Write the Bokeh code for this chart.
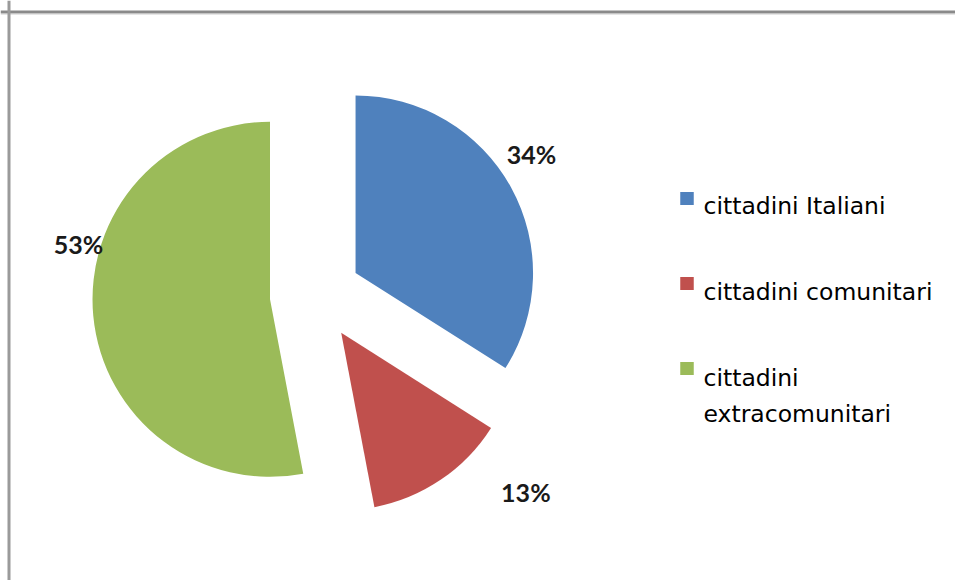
import math
from bokeh.plotting import figure
from bokeh.models import Range1d, Span
from bokeh.core.properties import value
from bokeh.embed import file_html
from bokeh.resources import INLINE

# ---- data ----
categories = ["cittadini Italiani", "cittadini comunitari", "cittadini extracomunitari"]
values = [34, 13, 53]
labels = ["34%", "13%", "53%"]
colors = ["#4F81BD", "#C0504D", "#9BBB59"]
legend_lines = [["cittadini Italiani"], ["cittadini comunitari"], ["cittadini", "extracomunitari"]]

# ---- layout ----
W, H = 955, 580
OX, OY = 0, 0                      # observed page offset
def dx(sx):  # screen px -> data x
    return sx - OX
def dy(sy):  # screen px -> data y (y up)
    return (OY + H) - sy

CX, CY = dx(315), dy(294.5)        # pie centre
R = 177.5                          # radius
EXPLODE = 45.7                     # explosion distance
# label placement (clock angle in degrees, distance from slice apex)
label_place = [(56.0, 212.2), (130.7, 243.6), (286.0, 199.2)]

p = figure(width=W, height=H, output_backend="svg", toolbar_location=None,
           x_range=Range1d(0, W), y_range=Range1d(0, H), min_border=0,
           match_aspect=False)
p.axis.visible = False
p.grid.visible = False
p.outline_line_color = None
p.background_fill_color = "white"
p.border_fill_color = "white"

total = float(sum(values))
acc = 0.0
xs, ys, starts, ends = [], [], [], []
lx, ly = [], []
for i, v in enumerate(values):
    t1 = acc / total * 360.0
    t2 = (acc + v) / total * 360.0
    acc += v
    mid = math.radians((t1 + t2) / 2.0)
    ax = CX + EXPLODE * math.sin(mid)
    ay = CY + EXPLODE * math.cos(mid)
    xs.append(ax)
    ys.append(ay)
    starts.append(math.radians(90.0 - t2))
    ends.append(math.radians(90.0 - t1))
    la, ld = label_place[i]
    lr = math.radians(la)
    lx.append(ax + ld * math.sin(lr))
    ly.append(ay + ld * math.cos(lr))

p.wedge(x=xs, y=ys, radius=R, start_angle=starts, end_angle=ends,
        fill_color=colors, line_color=None)

p.text(x=lx, y=ly, text=labels, text_font=value("Lato"), text_font_style="bold",
       text_font_size="25px", text_color="#1a1a1a", text_align="center",
       text_baseline="middle")

# legend
sq_x = dx(686.5)
txt_x = dx(703)
row_sq = [198, 283, 368]
row_base = [205, 291, 377]
line_gap = 36
sqx, sqy, tx, ty, tt = [], [], [], [], []
for i, lines in enumerate(legend_lines):
    sqx.append(sq_x)
    sqy.append(dy(row_sq[i]))
    for j, ln in enumerate(lines):
        tx.append(txt_x)
        ty.append(dy(row_base[i] + j * line_gap))
        tt.append(ln)
p.rect(x=sqx, y=sqy, width=13.5, height=13, fill_color=colors, line_color=None)
p.text(x=tx, y=ty, text=tt, text_font=value("DejaVu Sans"), text_font_size="23.5px",
       text_color="#000000", text_align="left", text_baseline="alphabetic")

# frame (top and left gray borders)
p.add_layout(Span(location=dy(11.5), dimension="width", line_color="#8a8a8a", line_width=3))
p.add_layout(Span(location=dy(14), dimension="width", line_color="#e6e6e6", line_width=1))
p.add_layout(Span(location=dx(8.5), dimension="height", line_color="#9a9a9a", line_width=3))

open("out.html", "w").write(file_html(p, INLINE))
